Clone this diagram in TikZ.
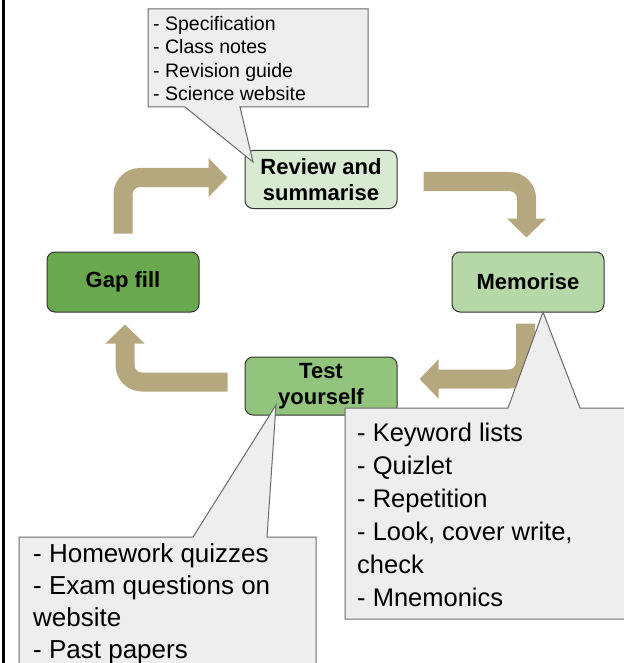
\documentclass[tikz,border=0pt]{standalone}
\usepackage{fontspec}
\setmainfont{Liberation Sans}
\usepackage{tikz}
\usepackage{xcolor}
\usetikzlibrary{arrows.meta,positioning,calc}
\definecolor{reviewgreen}{RGB}{217,234,211}
\definecolor{memgreen}{RGB}{182,215,168}
\definecolor{testgreen}{RGB}{147,196,125}
\definecolor{gapgreen}{RGB}{106,168,79}
\definecolor{arrowtan}{RGB}{181,167,126}
\definecolor{notegray}{RGB}{238,238,238}
\definecolor{noteedge}{RGB}{105,105,105}

\begin{document}
\begin{tikzpicture}[x=1pt,y=-1pt,
    stage/.style={draw=black!80,line width=1pt,rounded corners=8pt,minimum width=152pt,minimum height=58pt,align=center,font=\fontsize{22}{26}\selectfont\bfseries},
    cyclearrow/.style={draw=arrowtan,line width=19pt,rounded corners=17pt,-{Triangle[length=19pt,width=38pt]}},
    notebox/.style={fill=notegray,draw=noteedge,line width=1pt},
    notetext/.style={anchor=north west,inner sep=0pt,align=left}]
    \useasboundingbox (0,0) rectangle (623,663);

    % Frame edge
    \draw[line width=3pt] (3.5,0) -- (3.5,663);

    % Stages of the cycle
    \node[stage,fill=reviewgreen] (review) at (321,179.5) {Review and\\summarise};
    \node[stage,fill=memgreen,minimum height=60pt] (memorise) at (528,282) {Memorise};
    \node[stage,fill=gapgreen,minimum height=60pt] (gapfill) at (123,282) {Gap fill};
    \node[stage,fill=testgreen] (test) at (321,386) {Test\\yourself};

    % Cycle arrows
    \draw[cyclearrow,shorten <=18pt,shorten >=17pt] (gapfill.north) |- ([yshift=2pt]review.west);
    \draw[cyclearrow,shorten <=26pt,shorten >=14pt] ([yshift=-2pt]review.east) -| ([xshift=-1.5pt]memorise.north);
    \draw[cyclearrow,shorten <=11pt,shorten >=22pt] ([xshift=-2.5pt]memorise.south) |- ([yshift=7pt]test.east);
    \draw[cyclearrow,shorten <=17pt,shorten >=12pt] ([yshift=4pt]test.west) -| ([xshift=2pt]gapfill.south);

    % Callouts
    \draw[notebox] (148,9) -- (368,9) -- (368,107) -- (240,107) -- (253,162) -- (185,107) -- (148,107) -- cycle;
    \node[notetext,font=\fontsize{19.5}{23.5}\selectfont] (reviewnote) at (153,16) {- Specification\\- Class notes\\- Revision guide\\- Science website};

    \draw[notebox] (19,537) -- (193,537) -- (276,405) -- (267,537) -- (316,537) -- (316,672) -- (19,672) -- cycle;
    \node[notetext,font=\fontsize{26}{32}\selectfont] (testnote) at (33,543) {- Homework quizzes\\- Exam questions on\\website\\- Past papers};

    \draw[notebox] (345,408) -- (508,408) -- (543,312) -- (580,408) -- (632,408) -- (632,619) -- (345,619) -- cycle;
    \node[notetext,font=\fontsize{25.5}{33}\selectfont] (memnote) at (357,423) {- Keyword lists\\- Quizlet\\- Repetition\\- Look, cover write,\\check\\- Mnemonics};
\end{tikzpicture}
\end{document}
